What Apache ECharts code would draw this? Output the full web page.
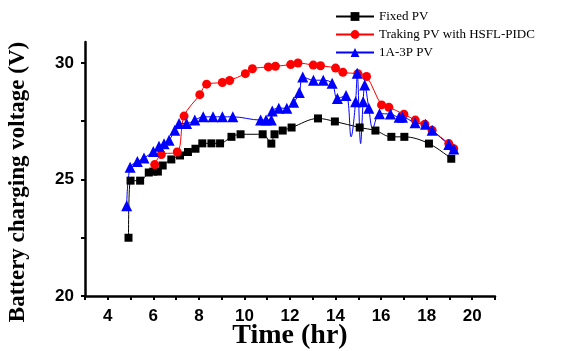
<!DOCTYPE html>
<html><head><meta charset="utf-8">
<script src="https://cdn.jsdelivr.net/npm/echarts@6/dist/echarts.min.js"></script>
<style>html,body{margin:0;padding:0;background:#fff}#c{width:568px;height:351px}</style>
</head><body><div id="c"></div>
<script>
// ---- data (time in hours, voltage in V) ----
const fixedT = [4.91,5.0,5.42,5.8,6.0,6.2,6.41,6.79,7.17,7.52,7.85,8.15,8.55,8.93,9.43,9.83,10.8,11.18,11.32,11.68,12.07,13.23,13.97,15.06,15.75,16.45,17.02,18.1,19.08];
const fixedV = [22.5,24.95,24.95,25.3,25.34,25.34,25.6,25.86,26.03,26.18,26.32,26.55,26.55,26.55,26.83,26.94,26.94,26.54,26.94,27.1,27.23,27.62,27.49,27.23,27.1,26.83,26.83,26.54,25.89];

const trackT = [6.06,6.35,7.05,7.35,8.04,8.34,9.03,9.35,10.04,10.35,11.05,11.36,12.03,12.35,13.02,13.34,14.0,14.32,14.98,15.36,16.02,16.34,17.0,17.5,17.92,18.24,18.97,19.19];
const trackV = [25.64,26.07,26.18,27.72,28.64,29.09,29.16,29.25,29.54,29.75,29.83,29.86,29.93,30.0,29.91,29.88,29.78,29.6,29.54,29.42,28.2,28.1,27.8,27.55,27.37,27.11,26.54,26.32];

const a3pT = [4.83,4.98,5.3,5.59,6.0,6.25,6.47,6.69,6.94,7.13,7.46,7.82,8.19,8.62,9.03,9.49,10.71,10.95,11.18,11.22,11.51,11.86,12.16,12.41,12.56,13.03,13.46,13.85,14.08,14.46,14.68,14.88,14.95,15.1,15.21,15.28,15.46,15.63,15.93,16.41,16.79,16.94,17.49,17.95,18.24,18.97,19.19];
const a3pV = [23.87,25.52,25.77,25.92,26.2,26.43,26.53,26.68,27.11,27.4,27.4,27.55,27.69,27.69,27.69,27.69,27.55,27.55,27.55,27.94,28.06,28.06,28.31,28.73,29.4,29.26,29.26,29.13,28.48,28.6,26.83,28.34,29.56,26.54,28.34,29.05,28.06,27.19,27.82,27.81,27.67,27.67,27.43,27.37,27.11,26.5,26.31];
// points of the 1A-3P trace that carry no marker (turning points of the spikes)
const a3pNoMarker = [30,33,37];

const xLabels = [4,6,8,10,12,14,16,18,20];
const xTicks = [3,4,5,6,7,8,9,10,11,12,13,14,15,16,17,18,19,20,21];
const yLabels = [20,25,30];
const yTicks = [20,22.5,25,27.5,30];

const names = ['Fixed PV','Traking PV with HSFL-PIDC','1A-3P PV'];
const xTitle = 'Time (hr)';
const yTitle = 'Battery charging voltage (V)';

const zip = (t, v) => t.map((x, i) => [x, v[i]]);
const a3pData = a3pT.map((x, i) => a3pNoMarker.includes(i)
  ? {value: [x, a3pV[i]], symbol: 'none'} : [x, a3pV[i]]);

const chart = echarts.init(document.getElementById('c'), null, {renderer: 'canvas'});
const axisFontL = {fontFamily: 'Liberation Sans', fontWeight: 'bold', fontSize: 17, color: '#000'};
chart.setOption({
  animation: false,
  backgroundColor: '#fff',
  grid: {left: 85, right: 73, top: 42, bottom: 55, containLabel: false, outerBoundsMode: 'none'},
  legend: {
    orient: 'vertical', left: 335, top: 10, padding: 0, itemGap: 5, itemWidth: 38, itemHeight: 11,
    textStyle: {fontFamily: 'Liberation Serif', fontSize: 13, color: '#000'},
    data: names
  },
  graphic: [{
    type: 'text', x: 18, y: 182, rotation: Math.PI / 2,
    style: {text: yTitle, fill: '#000', font: 'bold 23px "Liberation Serif"', align: 'center', verticalAlign: 'middle'}
  }, {
    type: 'text', x: 290, y: 336,
    style: {text: xTitle, fill: '#000', font: 'bold 28px "Liberation Serif"', align: 'center', verticalAlign: 'middle'}
  }],
  xAxis: {
    type: 'value', min: 3, max: 21, interval: 1,
    axisLine: {show: true, onZero: false, lineStyle: {color: '#000', width: 2.5}},
    axisTick: {show: true, length: 4, lineStyle: {color: '#000', width: 2}, customValues: xTicks},
    axisLabel: Object.assign({margin: 12, customValues: xLabels}, axisFontL),
    splitLine: {show: false}
  },
  yAxis: {
    type: 'value', min: 20, max: 30.9,
    axisLine: {show: true, onZero: false, lineStyle: {color: '#000', width: 2.5}},
    axisTick: {show: true, length: 4, lineStyle: {color: '#000', width: 2}, customValues: yTicks},
    axisLabel: Object.assign({margin: 11, customValues: yLabels}, axisFontL),
    splitLine: {show: false}
  },
  series: [
    {name: names[0], type: 'line', data: zip(fixedT, fixedV), smooth: 0.35,
     symbol: 'rect', symbolSize: 8, itemStyle: {color: '#000'}, lineStyle: {color: '#000', width: 1}},
    {name: names[1], type: 'line', data: zip(trackT, trackV), smooth: 0.35,
     symbol: 'circle', symbolSize: 9, itemStyle: {color: '#ff0000'}, lineStyle: {color: '#ff0000', width: 1}},
    {name: names[2], type: 'line', data: a3pData, smooth: 0.35,
     symbol: 'triangle', symbolSize: 11, itemStyle: {color: '#0000ff'}, lineStyle: {color: '#0000ff', width: 1}}
  ]
});
</script></body></html>
